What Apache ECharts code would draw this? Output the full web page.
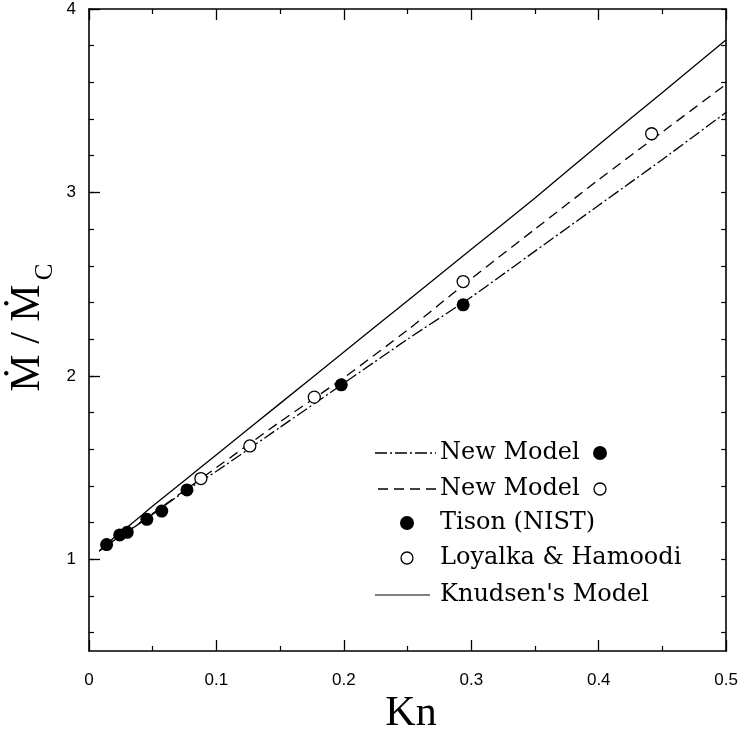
<!DOCTYPE html>
<html>
<head>
<meta charset="utf-8">
<script src="https://cdn.jsdelivr.net/npm/echarts@6/dist/echarts.min.js"></script>
<style>html,body{margin:0;padding:0;background:#fff}#c{width:741px;height:731px}</style>
</head>
<body>
<div id="c"></div>
<script>
// Knudsen numbers at which the model curves are read
const lineKn = [0.008, 0.02, 0.03, 0.05, 0.075, 0.1, 0.15, 0.2, 0.25, 0.3, 0.35, 0.4, 0.45, 0.5];
// Knudsen's Model (solid)
const knudsenRatio = [1.045, 1.12, 1.175, 1.29, 1.43, 1.57, 1.85, 2.13, 2.41, 2.69, 2.97, 3.26, 3.545, 3.833];
// New Model fitted to filled points (dash-dot)
const newModelFilledRatio = [1.045, 1.105, 1.15, 1.245, 1.37, 1.48, 1.72, 1.96, 2.20, 2.43, 2.68, 2.93, 3.18, 3.437];
// New Model fitted to open points (dashed)
const newModelOpenRatio = [1.045, 1.105, 1.15, 1.25, 1.375, 1.50, 1.75, 1.99, 2.25, 2.53, 2.80, 3.07, 3.33, 3.59];
// Tison (NIST) data (filled circles)
const tisonKn = [0.0138, 0.0241, 0.0300, 0.0454, 0.0571, 0.0769, 0.198, 0.2936];
const tisonRatio = [1.080, 1.133, 1.147, 1.218, 1.263, 1.378, 1.951, 2.387];
// Loyalka & Hamoodi data (open circles)
const loyalkaKn = [0.0878, 0.1262, 0.1768, 0.2936, 0.4415];
const loyalkaRatio = [1.440, 1.618, 1.884, 2.514, 3.320];
// Axis ticks
const yMajorTicks = [1, 2, 3, 4];
const yMinorTicks = [0.6, 0.8, 1.0, 1.2, 1.4, 1.6, 1.8, 2.0, 2.2, 2.4, 2.6, 2.8, 3.0, 3.2, 3.4, 3.6, 3.8, 4.0];

const zip = (xs, ys) => xs.map((x, i) => [x, ys[i]]);
const chart = echarts.init(document.getElementById('c'));
const axisLine = { show: true, lineStyle: { color: '#000', width: 1.6 } };
const sans = 'Liberation Sans';
const legendFont = '24px "DejaVu Serif"';

const xCommon = {
  type: 'value', min: 0, max: 0.5, interval: 0.1,
  axisLine: axisLine, splitLine: { show: false },
  axisTick: { show: true, inside: true, length: 11, lineStyle: { color: '#000', width: 1.3 } },
  minorTick: { show: true, splitNumber: 2, length: 5, lineStyle: { color: '#000', width: 1.2 } }
};
const yBase = { type: 'value', min: 0.5, max: 4, splitLine: { show: false } };

chart.setOption({
  animation: false,
  backgroundColor: '#fff',
  grid: { left: 89, right: 11, top: 9, bottom: 80, containLabel: false },
  xAxis: [
    Object.assign({}, xCommon, {
      position: 'bottom',
      axisLabel: { show: true, fontSize: 17, color: '#000', fontFamily: sans, margin: 21,
        formatter: v => (v === 0 ? '0' : String(Math.round(v * 10) / 10)) }
    }),
    Object.assign({}, xCommon, { position: 'top', axisLabel: { show: false } })
  ],
  yAxis: [
    Object.assign({}, yBase, {
      position: 'left', axisLine: axisLine,
      axisLabel: { show: true, customValues: yMajorTicks, fontSize: 17, color: '#000', fontFamily: sans, margin: 13, padding: [8, 0, 0, 0] },
      axisTick: { show: true, inside: true, customValues: yMajorTicks, length: 11, lineStyle: { color: '#000', width: 1.3 } }
    }),
    Object.assign({}, yBase, {
      position: 'left', axisLine: { show: false }, axisLabel: { show: false },
      axisTick: { show: true, inside: true, customValues: yMinorTicks, length: 5, lineStyle: { color: '#000', width: 1.2 } }
    }),
    Object.assign({}, yBase, {
      position: 'right', axisLine: axisLine, axisLabel: { show: false },
      axisTick: { show: true, inside: true, customValues: yMinorTicks, length: 5, lineStyle: { color: '#000', width: 1.2 } }
    })
  ],
  series: [
    { name: "Knudsen's Model", type: 'line', data: zip(lineKn, knudsenRatio), showSymbol: false, smooth: 0.2,
      lineStyle: { color: '#000', width: 1.3, type: 'solid' }, z: 2 },
    { name: 'New Model ●', type: 'line', data: zip(lineKn, newModelFilledRatio), showSymbol: false, smooth: 0.2,
      lineStyle: { color: '#000', width: 1.3, type: [12, 3, 2, 3] }, z: 2 },
    { name: 'New Model ○', type: 'line', data: zip(lineKn, newModelOpenRatio), showSymbol: false, smooth: 0.2,
      lineStyle: { color: '#000', width: 1.3, type: [10, 6] }, z: 2 },
    { name: 'Tison (NIST)', type: 'scatter', data: zip(tisonKn, tisonRatio), symbol: 'circle', symbolSize: 13,
      itemStyle: { color: '#000', opacity: 1 }, z: 3 },
    { name: 'Loyalka & Hamoodi', type: 'scatter', data: zip(loyalkaKn, loyalkaRatio), symbol: 'circle', symbolSize: 12,
      itemStyle: { color: '#fff', borderColor: '#000', borderWidth: 1.3, opacity: 1 }, z: 4 }
  ],
  graphic: [
    // axis titles
    { type: 'text', x: 28, y: 338, rotation: Math.PI / 2,
      style: { text: 'Ṁ / Ṁ', font: '42px "Liberation Serif"', fill: '#000', align: 'center', verticalAlign: 'middle' } },
    { type: 'text', x: 45, y: 272, rotation: Math.PI / 2,
      style: { text: 'C', font: '25px "Liberation Serif"', fill: '#000', align: 'center', verticalAlign: 'middle' } },
    { type: 'text', x: 411, y: 714,
      style: { text: 'Kn', font: '42px "Liberation Serif"', fill: '#000', align: 'center', verticalAlign: 'middle' } },
    // legend
    { type: 'line', shape: { x1: 375, y1: 453, x2: 436, y2: 453 }, style: { stroke: '#000', lineWidth: 1.3, lineDash: [12, 3, 2, 3] } },
    { type: 'text', x: 440, y: 453, style: { text: 'New Model', font: legendFont, fill: '#000', verticalAlign: 'middle' } },
    { type: 'circle', shape: { cx: 600, cy: 453, r: 7 }, style: { fill: '#000' } },
    { type: 'line', shape: { x1: 378, y1: 489, x2: 436, y2: 489 }, style: { stroke: '#000', lineWidth: 1.3, lineDash: [10, 6] } },
    { type: 'text', x: 440, y: 489, style: { text: 'New Model', font: legendFont, fill: '#000', verticalAlign: 'middle' } },
    { type: 'circle', shape: { cx: 600, cy: 489, r: 6 }, style: { fill: '#fff', stroke: '#000', lineWidth: 1.3 } },
    { type: 'circle', shape: { cx: 407, cy: 523, r: 7 }, style: { fill: '#000' } },
    { type: 'text', x: 440, y: 523, style: { text: 'Tison (NIST)', font: legendFont, fill: '#000', verticalAlign: 'middle' } },
    { type: 'circle', shape: { cx: 407, cy: 558, r: 6 }, style: { fill: '#fff', stroke: '#000', lineWidth: 1.3 } },
    { type: 'text', x: 440, y: 558, style: { text: 'Loyalka & Hamoodi', font: legendFont, fill: '#000', verticalAlign: 'middle' } },
    { type: 'line', shape: { x1: 375, y1: 595, x2: 430, y2: 595 }, style: { stroke: '#000', lineWidth: 1.2 } },
    { type: 'text', x: 440, y: 595, style: { text: "Knudsen's Model", font: legendFont, fill: '#000', verticalAlign: 'middle' } }
  ]
});
</script>
</body>
</html>
